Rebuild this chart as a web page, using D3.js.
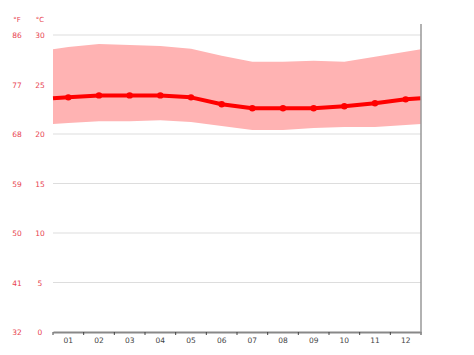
<!DOCTYPE html>
<html>
<head>
<meta charset="utf-8">
<script src="https://cdn.jsdelivr.net/npm/d3@7"></script>
<style>
  body { margin: 0; background: #fff; }
  text { font-family: "DejaVu Sans", sans-serif; }
</style>
</head>
<body>
<svg id="chart" width="474" height="355"></svg>
<script>
// Monthly temperatures in °C
const months = ['01', '02', '03', '04', '05', '06', '07', '08', '09', '10', '11', '12'];
const meanTemp = [23.7, 23.9, 23.9, 23.9, 23.7, 23.0, 22.6, 22.6, 22.6, 22.8, 23.1, 23.5];
const maxTemp = [28.8, 29.1, 29.0, 28.9, 28.6, 27.9, 27.3, 27.3, 27.4, 27.3, 27.8, 28.3];
const minTemp = [21.1, 21.3, 21.3, 21.4, 21.2, 20.8, 20.4, 20.4, 20.6, 20.7, 20.7, 20.9];
const celsiusTicks = [0, 5, 10, 15, 20, 25, 30];
const fahrenheitTicks = [32, 41, 50, 59, 68, 77, 86];

const svg = d3.select('#chart');
const plotLeft = 53, plotRight = 421, plotTop = 35, plotBottom = 332;

const x = d3.scaleBand().domain(months).range([plotLeft, plotRight]);
const y = d3.scaleLinear().domain([0, 30]).range([plotBottom, plotTop]);

// build points with wrap-around edges (avg of Dec and Jan)
function withEdges(vals) {
    const edge = (vals[0] + vals[vals.length - 1]) / 2;
    const pts = [{px: plotLeft, v: edge}];
    vals.forEach((v, i) => pts.push({px: x(months[i]) + x.bandwidth() / 2, v: v}));
    pts.push({px: plotRight, v: edge});
    return pts;
}

// gridlines
svg.append('g').selectAll('line')
    .data(celsiusTicks.filter(d => d > 0))
    .enter().append('line')
    .attr('x1', plotLeft).attr('x2', plotRight)
    .attr('y1', d => y(d)).attr('y2', d => y(d))
    .attr('stroke', '#dddddd').attr('stroke-width', 1);

// min-max band
const hi = withEdges(maxTemp), lo = withEdges(minTemp);
const band = hi.map((d, i) => ({px: d.px, hi: d.v, lo: lo[i].v}));
svg.append('path')
    .datum(band)
    .attr('fill', '#ffb3b3')
    .attr('d', d3.area().x(d => d.px).y0(d => y(d.lo)).y1(d => y(d.hi)));

// mean line
svg.append('path')
    .datum(withEdges(meanTemp))
    .attr('fill', 'none')
    .attr('stroke', '#ff0000')
    .attr('stroke-width', 4)
    .attr('stroke-linejoin', 'round')
    .attr('d', d3.line().x(d => d.px).y(d => y(d.v)));

svg.append('g').selectAll('circle')
    .data(meanTemp)
    .enter().append('circle')
    .attr('cx', (d, i) => x(months[i]) + x.bandwidth() / 2)
    .attr('cy', d => y(d))
    .attr('r', 3.2)
    .attr('fill', '#ff0000');

// x axis
const xAxis = svg.append('g')
    .attr('transform', `translate(0,${plotBottom})`)
    .call(d3.axisBottom(x).tickSize(0).tickPadding(6));
xAxis.select('.domain').attr('stroke', '#888').attr('stroke-width', 2);
xAxis.selectAll('text').attr('fill', '#444').attr('font-size', 7.5);
svg.append('g').selectAll('line')
    .data(d3.range(months.length + 1))
    .enter().append('line')
    .attr('x1', i => plotLeft + i * x.bandwidth()).attr('x2', i => plotLeft + i * x.bandwidth())
    .attr('y1', plotBottom).attr('y2', plotBottom + 3)
    .attr('stroke', '#444').attr('stroke-width', 1);

// right border
svg.append('line')
    .attr('x1', plotRight).attr('x2', plotRight)
    .attr('y1', 24).attr('y2', plotBottom + 3)
    .attr('stroke', '#999').attr('stroke-width', 1.5);

// y labels (°C and °F)
const labelColor = '#e8434f';
svg.append('g').selectAll('text')
    .data(celsiusTicks)
    .enter().append('text')
    .attr('x', 40).attr('y', d => y(d) + 3)
    .attr('text-anchor', 'middle')
    .attr('font-size', 7.5)
    .attr('fill', labelColor)
    .text(d => d);
svg.append('g').selectAll('text')
    .data(fahrenheitTicks)
    .enter().append('text')
    .attr('x', 17).attr('y', (d, i) => y(celsiusTicks[i]) + 3)
    .attr('text-anchor', 'middle')
    .attr('font-size', 7.5)
    .attr('fill', labelColor)
    .text(d => d);
svg.append('text').attr('x', 17).attr('y', 22).attr('text-anchor', 'middle')
    .attr('font-size', 7).attr('fill', labelColor).text('°F');
svg.append('text').attr('x', 40).attr('y', 22).attr('text-anchor', 'middle')
    .attr('font-size', 7).attr('fill', labelColor).text('°C');
</script>
</body>
</html>
